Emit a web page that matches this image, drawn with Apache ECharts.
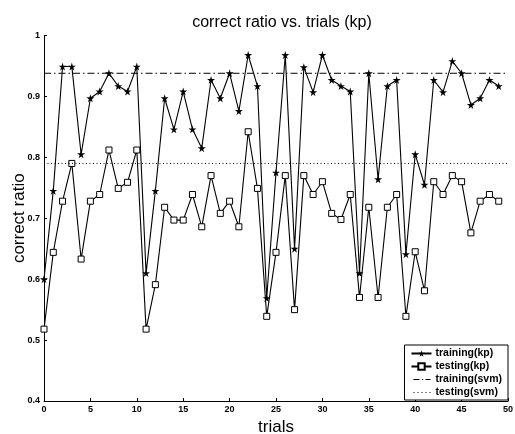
<!DOCTYPE html>
<html>
<head>
<meta charset="utf-8">
<script src="https://cdn.jsdelivr.net/npm/echarts@6/dist/echarts.min.js"></script>
<style>
html,body{margin:0;padding:0;background:#fff;}
#chart{width:515px;height:434px;}
</style>
</head>
<body>
<div id="chart"></div>
<script>
const trials = [0,1,2,3,4,5,6,7,8,9,10,11,12,13,14,15,16,17,18,19,20,21,22,23,24,25,26,27,28,29,30,31,32,33,34,35,36,37,38,39,40,41,42,43,44,45,46,47,48,49];
const trainingKp = [0.600,0.745,0.949,0.949,0.805,0.897,0.908,0.938,0.917,0.908,
                    0.949,0.610,0.745,0.897,0.846,0.908,0.846,0.815,0.927,0.897,
                    0.938,0.876,0.968,0.917,0.569,0.775,0.968,0.650,0.948,0.907,
                    0.968,0.927,0.917,0.908,0.610,0.938,0.764,0.917,0.927,0.641,
                    0.805,0.755,0.927,0.907,0.958,0.938,0.886,0.897,0.927,0.917];
const testingKp = [0.518,0.644,0.728,0.790,0.633,0.728,0.739,0.812,0.749,0.759,
                   0.812,0.518,0.591,0.718,0.697,0.697,0.739,0.686,0.770,0.708,
                   0.728,0.686,0.842,0.749,0.539,0.644,0.770,0.550,0.770,0.739,
                   0.760,0.708,0.698,0.739,0.570,0.718,0.570,0.718,0.739,0.539,
                   0.645,0.581,0.760,0.739,0.770,0.760,0.676,0.728,0.739,0.728];
const svmRange = [0, 50];
const trainingSvm = 0.938;
const testingSvm = 0.790;
const seriesNames = ['training(kp)','testing(kp)','training(svm)','testing(svm)'];

const FONT = '"Liberation Sans", Arial, Helvetica, sans-serif';
const starPath = 'path://M50,0 L61,35 L98,35 L68,57 L79,91 L50,70 L21,91 L32,57 L2,35 L39,35 Z';
const dashDot = [7, 3, 1.5, 3];
const dotted = [1, 2.5];
// legend icons (20 x 8 box, tiny corner marks fix the bounding box)
const boxFix = 'M0,0 h0.01 v0.01 h-0.01 Z M19.99,7.99 h0.01 v0.01 h-0.01 Z ';
const dashDotIcon = 'path://' + boxFix + 'M2,3.5 h6 v1 h-6 Z M10.5,3.5 h1.2 v1 h-1.2 Z M14,3.5 h5 v1 h-5 Z';
const dottedIcon = 'path://' + boxFix + 'M2,3.5 h1 v1 h-1 Z M6,3.5 h1 v1 h-1 Z M10,3.5 h1 v1 h-1 Z M14,3.5 h1 v1 h-1 Z M18,3.5 h1 v1 h-1 Z';

const chart = echarts.init(document.getElementById('chart'), null, {renderer:'canvas'});
chart.setOption({
  animation: false,
  backgroundColor: '#fff',
  title: {
    text: 'correct ratio vs. trials (kp)',
    left: 277, textAlign: 'center', top: 10,
    textStyle: {fontFamily: FONT, fontSize: 16, fontWeight: 'normal', color: '#000'}
  },
  grid: {left: 44, right: 7, top: 35.5, bottom: 33, containLabel: false, outerBoundsMode: 'none'},
  legend: {
    orient: 'vertical',
    right: 7, top: 345,
    itemWidth: 20, itemHeight: 8, itemGap: 2,
    padding: [3, 6, 2, 6],
    borderColor: '#000', borderWidth: 1, borderRadius: 0,
    backgroundColor: '#fff',
    textStyle: {fontFamily: FONT, fontSize: 10.5, lineHeight: 10, fontWeight: 'bold', color: '#000', padding: [0,0,0,-1]},
    data: [
      {name: seriesNames[0]},
      {name: seriesNames[1]},
      {name: seriesNames[2], icon: dashDotIcon},
      {name: seriesNames[3], icon: dottedIcon}
    ]
  },
  xAxis: {
    type: 'value', min: 0, max: 50, interval: 5,
    name: 'trials', nameLocation: 'middle', nameGap: 16,
    nameTextStyle: {fontFamily: FONT, fontSize: 17, color: '#000'},
    axisLine: {lineStyle: {color: '#000', width: 1}},
    axisTick: {inside: true, length: 3, lineStyle: {color: '#000'}},
    axisLabel: {fontFamily: FONT, fontSize: 9, fontWeight: 'bold', color: '#000', margin: 4},
    splitLine: {show: false}
  },
  yAxis: {
    type: 'value', min: 0.4, max: 1, interval: 0.1,
    name: 'correct ratio', nameLocation: 'middle', nameGap: 16, nameMoveOverlap: false,
    nameTextStyle: {fontFamily: FONT, fontSize: 17, color: '#000'},
    axisLine: {show: true, lineStyle: {color: '#000', width: 1}},
    axisTick: {show: true, inside: true, length: 3, lineStyle: {color: '#000'}},
    axisLabel: {fontFamily: FONT, fontSize: 9, fontWeight: 'bold', color: '#000', margin: 4,
      formatter: v => String(+v.toFixed(1))},
    splitLine: {show: false}
  },
  series: [
    {
      name: seriesNames[0], type: 'line',
      data: trials.map((t, i) => [t, trainingKp[i]]),
      symbol: starPath, symbolSize: 8,
      itemStyle: {color: '#000'},
      lineStyle: {color: '#000', width: 1.1},
      z: 3
    },
    {
      name: seriesNames[1], type: 'line',
      data: trials.map((t, i) => [t, testingKp[i]]),
      symbol: 'rect', symbolSize: 6,
      itemStyle: {color: '#fff', borderColor: '#000', borderWidth: 1},
      lineStyle: {color: '#000', width: 1.1},
      z: 2
    },
    {
      name: seriesNames[2], type: 'line',
      data: svmRange.map(x => [x, trainingSvm]),
      symbol: 'none', showSymbol: false,
      itemStyle: {color: '#000'},
      lineStyle: {color: '#000', width: 1, type: dashDot}
    },
    {
      name: seriesNames[3], type: 'line',
      data: svmRange.map(x => [x, testingSvm]),
      symbol: 'none', showSymbol: false,
      itemStyle: {color: '#000'},
      lineStyle: {color: '#000', width: 1, type: dotted}
    }
  ]
});
</script>
</body>
</html>
